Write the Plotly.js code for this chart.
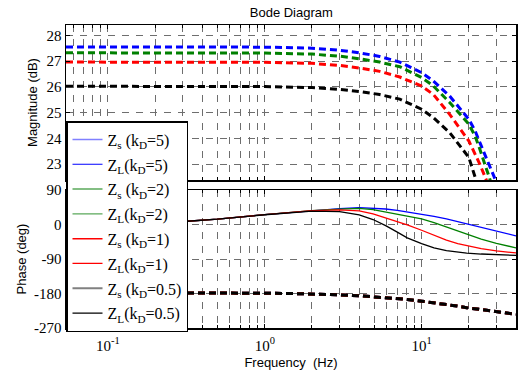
<!DOCTYPE html>
<html>
<head>
<meta charset="utf-8">
<script src="https://cdn.plot.ly/plotly-3.0.1.min.js"></script>
<style>html,body{margin:0;padding:0;background:#fff;}#chart{width:523px;height:376px;}</style>
</head>
<body>
<div id="chart"></div>
<script>
// ---- data ----
var freqMag = [0.054, 0.1, 0.2, 0.5, 1, 2, 3, 4, 5.4, 7.26, 10, 11.9, 15.1, 20, 21.9, 23.5, 26.6, 29.4, 33, 40];
var magK5   = [27.55,27.55,27.55,27.55,27.54,27.5,27.42,27.32,27.18,26.96,26.55,26.22,25.64,24.74,24.3,23.84,23.06,22.42,21.5,19.5];
var magK2   = [27.32,27.32,27.32,27.32,27.31,27.27,27.19,27.09,26.96,26.78,26.36,26.03,25.39,24.55,24.1,23.58,22.7,21.9,20.9,18.9];
var magK1   = [26.96,26.96,26.96,26.96,26.95,26.91,26.83,26.73,26.6,26.38,26.03,25.7,24.93,23.9,23.4,23.0,22.2,21.4,20.4,18.4];
var magK05  = [26.02,26.02,26.02,26.02,26.01,25.97,25.9,25.82,25.7,25.52,25.13,24.8,24.22,23.26,22.6,22.05,20.9,19.9,18.8,16.8];

var freqPh  = [0.054, 0.1, 0.2, 0.32, 0.5, 1, 1.67, 2, 3, 4, 4.9, 5.9, 7, 8.1, 10, 12, 14.4, 17, 19.4, 24, 30, 40];
var phLK5   = [-3, 0, 4, 8.5, 14, 25.7, 33.5, 36.8, 41.5, 43.8, 43, 40.5, 37, 33, 27, 21, 15, 7.5, 1.5, -8, -17, -29.5];
var phLK2   = [-3, 0, 4, 8.5, 14, 25.7, 33.5, 36.5, 40, 42, 39, 33, 27, 22, 15, 5, -6, -17, -26, -38, -49, -61];
var phLK1   = [-3, 0, 4, 8.5, 14, 25.7, 33.3, 36, 38, 35.5, 28, 18, 8, -1, -15, -29, -41, -50, -55, -63, -69, -74];
var phLK05  = [-3, 0, 4, 8.5, 14, 25.5, 33, 35, 33.5, 25, 13, -3, -20, -35, -50, -61, -68, -72, -74.5, -77, -79, -80.5];
var phS     = [-177.5, -177.6, -177.8, -178, -178.3, -179.3, -180.5, -181.2, -183.5, -186, -188.3, -190.5, -193, -195.5, -200, -204, -208.5, -213, -217, -222.5, -228, -234];

var kLabels = ['5', '2', '1', '0.5'];
var colors  = ['#0000ff', '#008000', '#ff0000', '#000000'];
var legSColors = ['#8080ff', '#5aa85a', '#ff0000', '#808080'];
var legLColors = ['#0000ff', '#5aa85a', '#ff0000', '#000000'];
var magSeries = [magK5, magK2, magK1, magK05];
var phLSeries = [phLK5, phLK2, phLK1, phLK05];

var magTicks = [23, 24, 25, 26, 27, 28];
var phTicks = [-270, -180, -90, 0, 90];
var phTickText = ['-270', '-180', '-90', '0', '90'];
var xTicks = [0.1, 1, 10];
var xTickText = ['10<sup>-1</sup>', '10<sup>0</sup>', '10<sup>1</sup>'];

var traces = [];
// magnitude (dashed)
for (var i = 0; i < 4; i++) {
  traces.push({x: freqMag, y: magSeries[i], xaxis: 'x', yaxis: 'y', mode: 'lines', showlegend: false,
    line: {color: colors[i], width: 3, dash: '7px,4px'}, hoverinfo: 'skip'});
}
// phase Z_L (solid)
for (var i = 0; i < 4; i++) {
  traces.push({x: freqPh, y: phLSeries[i], xaxis: 'x2', yaxis: 'y2', mode: 'lines', showlegend: false,
    line: {color: colors[i], width: 1.3}, hoverinfo: 'skip'});
}
// phase Z_s (dashed, overlapping)
for (var i = 0; i < 4; i++) {
  traces.push({x: freqPh, y: phS, xaxis: 'x2', yaxis: 'y2', mode: 'lines', showlegend: false,
    line: {color: colors[i], width: 3, dash: '7px,4px'}, hoverinfo: 'skip'});
}
// legend entries
for (var i = 0; i < 4; i++) {
  traces.push({x: [null], y: [null], xaxis: 'x2', yaxis: 'y2', mode: 'lines',
    name: 'Z<sub>s</sub> (k<sub>D</sub>=' + kLabels[i] + ')', legendgroup: 's' + i,
    line: {color: legSColors[i], width: (i === 3 ? 2 : 1.5)}});
  traces.push({x: [null], y: [null], xaxis: 'x2', yaxis: 'y2', mode: 'lines',
    name: 'Z<sub>L</sub>(k<sub>D</sub>=' + kLabels[i] + ')', legendgroup: 'l' + i,
    line: {color: legLColors[i], width: 1.2}});
}

var gridC = '#6e6e6e';
var tickFont = {family: 'Liberation Serif, Times New Roman, serif', size: 15, color: '#000'};
var titleFont = {family: 'Liberation Sans, Arial, sans-serif', size: 13, color: '#000'};
var xrange = [Math.log10(0.054), Math.log10(40)];

var xCommon = {
  type: 'log', range: xrange, showline: true, linecolor: '#000', linewidth: 1.5, mirror: 'allticks',
  ticks: 'inside', ticklen: 4, tickcolor: '#000', showgrid: true, gridcolor: gridC, griddash: '7px,7px', gridwidth: 1,
  tickmode: 'array', tickvals: xTicks, ticktext: xTickText, tickfont: tickFont, zeroline: false,
  minor: {dtick: 'D1', showgrid: true, gridcolor: gridC, griddash: '7px,7px', gridwidth: 1, ticks: 'inside', ticklen: 3, tickcolor: '#000'}
};

var layout = {
  width: 523, height: 376,
  margin: {l: 66, r: 7, t: 25, b: 48},
  paper_bgcolor: '#fff', plot_bgcolor: '#fff',
  title: {text: 'Bode Diagram', font: titleFont, x: 0.557, xanchor: 'center', y: 0.968, yanchor: 'middle', yref: 'container', xref: 'container'},
  xaxis: Object.assign({}, xCommon, {anchor: 'y', matches: 'x2', showticklabels: false}),
  xaxis2: Object.assign({}, xCommon, {anchor: 'y2', ticklabelstandoff: 3, title: {text: 'Frequency  (Hz)', font: titleFont, standoff: 5}}),
  yaxis: {domain: [0.4884, 1], range: [22.38, 28.4], tickvals: magTicks, showline: true, linecolor: '#000', linewidth: 1.5,
    mirror: 'allticks', ticks: 'inside', ticklen: 4, tickcolor: '#000', showgrid: true, gridcolor: gridC, griddash: '7px,7px',
    zeroline: false, tickfont: tickFont, title: {text: 'Magnitude (dB)', font: titleFont, standoff: 6}},
  yaxis2: {domain: [0, 0.4554], range: [-270, 90], tickvals: phTicks, ticktext: phTickText, showline: true, linecolor: '#000', linewidth: 1.5,
    mirror: 'allticks', ticks: 'inside', ticklen: 4, tickcolor: '#000', showgrid: true, gridcolor: gridC, griddash: '7px,7px',
    zeroline: false, tickfont: tickFont, title: {text: 'Phase (deg)', font: titleFont, standoff: 4}},
  legend: {x: 0, xanchor: 'left', y: 0.683, yanchor: 'top', bgcolor: '#fff', bordercolor: '#000', borderwidth: 1.5,
    font: {family: 'Liberation Serif, Times New Roman, serif', size: 16, color: '#000'}, traceorder: 'grouped', tracegroupgap: 1},
  showlegend: true
};

Plotly.newPlot('chart', traces, layout, {staticPlot: true, displayModeBar: false});
</script>
</body>
</html>
